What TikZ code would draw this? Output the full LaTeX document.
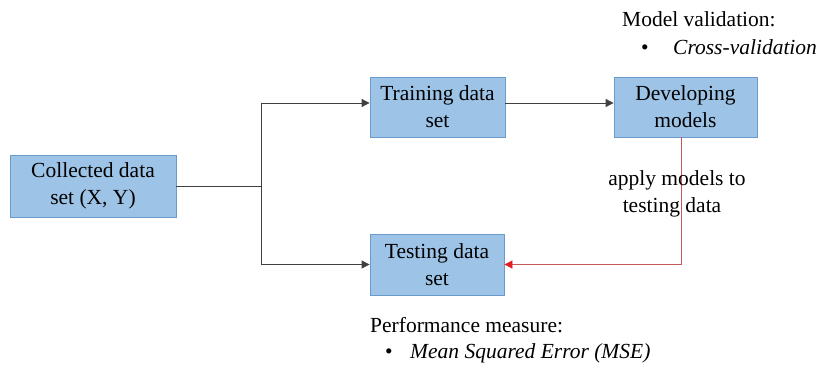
\documentclass[tikz,border=0pt]{standalone}
\usepackage{fontspec}
\setmainfont{Liberation Serif}
\usetikzlibrary{arrows.meta}
\definecolor{boxfill}{HTML}{9DC3E6}
\definecolor{boxline}{HTML}{6A9BCB}
\definecolor{linkgray}{HTML}{404040}
\definecolor{linkred}{HTML}{C55A5A}
\definecolor{tipred}{HTML}{E02020}
\begin{document}
\begin{tikzpicture}[x=1pt,y=-1pt,
  txt/.style={font=\fontsize{21.5}{27}\selectfont, inner sep=0pt},
  stepbox/.style={txt, draw=boxline, fill=boxfill, line width=0.8pt, align=center},
  link/.style={draw=linkgray, line width=0.8pt},
  arrowlink/.style={link, -{Triangle[length=8pt,width=8pt]}},
  redlink/.style={draw=linkred, line width=0.8pt, -{Triangle[length=8pt,width=8pt,fill=tipred,color=tipred]}}]
\useasboundingbox (0,0) rectangle (819,364);

% process boxes
\node[stepbox, minimum width=166pt, minimum height=62pt] (collected) at (93,186) {Collected data\\set (X, Y)};
\node[stepbox, minimum width=135pt, minimum height=60pt] (training) at (437.5,107) {Training data\\set};
\node[stepbox, minimum width=143pt, minimum height=60pt] (developing) at (685.5,107) {Developing\\models};
\node[stepbox, minimum width=134pt, minimum height=61pt] (testing) at (437,264.5) {Testing data\\set};

% split of the collected data
\coordinate (split) at (261,186);
\draw[link] (collected.east) -- (split);
\draw[arrowlink] (split) |- ([yshift=4pt]training.west);
\draw[arrowlink] (split) |- (testing.west);
\draw[arrowlink] ([yshift=4pt]training.east) -- ([yshift=4pt]developing.west);

% models applied to the testing data
\draw[redlink] ([xshift=-4.5pt]developing.south) |- (testing.east);
\node[txt, anchor=base] (applyA) at (677,185) {apply models to};
\node[txt, anchor=base] (applyB) at (672,212) {testing data};

% model validation note
\node[txt, anchor=base west] (valtitle) at (622,27) {Model validation:};
\node[txt, anchor=base] (valbullet) at (645,54) {•};
\node[txt, anchor=base west] (valitem) at (673,54) {\itshape Cross-validation};

% performance note
\node[txt, anchor=base west] (perftitle) at (370,332) {Performance measure:};
\node[txt, anchor=base] (perfbullet) at (389,358) {•};
\node[txt, anchor=base west] (perfitem) at (410,358) {\itshape Mean Squared Error (MSE)};
\end{tikzpicture}
\end{document}
